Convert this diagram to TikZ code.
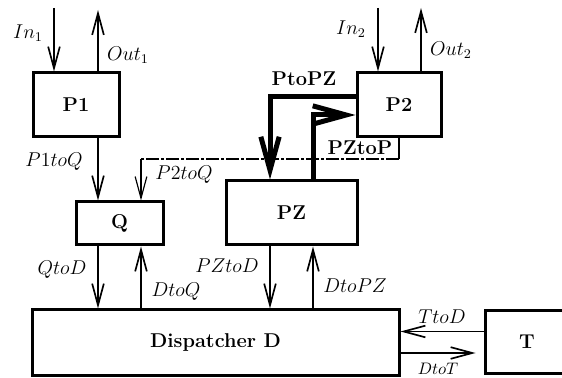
\documentclass[tikz,border=0pt]{standalone}
\usetikzlibrary{arrows.meta}
\tikzset{
  box/.style={draw, line width=1.8pt, font=\large\bfseries, inner sep=0pt},
  arr/.style={line width=1pt, -{Straight Barb[length=13pt,width=7pt]}},
  bigarr/.style={line width=3pt, -{Straight Barb[length=20pt,width=11pt]}},
  dashpat/.style={line width=0.7pt, dash pattern=on 7.8pt off 1.2pt on 1.8pt off 1.2pt},
  lbl/.style={font=\large, inner sep=0pt}
}
\begin{document}
\begin{tikzpicture}[x=0.6pt,y=-0.6pt]
\clip (0,0) rectangle (562,378);

\node[box, minimum width=51.6pt, minimum height=38.4pt] (p1) at (76,105) {P1};
\node[box, minimum width=50.4pt, minimum height=38.4pt] (p2) at (399,105) {P2};
\node[box, minimum width=52.2pt, minimum height=25.8pt] (q) at (119.5,223.5) {Q};
\node[box, minimum width=78.6pt, minimum height=38.4pt] (pz) at (291.5,213) {PZ};
\node[box, minimum width=220.2pt, minimum height=39pt] (d) at (215.5,342.5) {Dispatcher D};
\node[box, minimum width=50.4pt, minimum height=37.2pt] (t) at (527,342) {T};

\coordinate (in1) at (54,8);
\coordinate (out1) at (98,10);
\coordinate (in2) at (378,8);
\coordinate (out2) at (421,8);
\coordinate (dq) at (141,159);
\coordinate (c3) at (270,0);
\coordinate (c4) at (313,0);

\draw[arr] (in1) -- (in1 |- p1.north);
\draw[arr] (out1 |- p1.north) -- (out1);
\draw[arr] (in2) -- (in2 |- p2.north);
\draw[arr] (out2 |- p2.north) -- (out2);
\draw[arr] (out1 |- p1.south) -- (out1 |- q.north);

\draw[line width=0.7pt] (p2.south) -- (p2.south |- dq);
\draw[dashpat] (p2.south |- dq) -- (dq);
\draw[arr, line width=0.7pt] (dq) -- (dq |- q.north);

\draw[bigarr] ([yshift=4.8pt]p2.west) -| (c3 |- pz.north);
\draw[bigarr] (c4 |- pz.north) |- ([yshift=-6pt]p2.west);

\draw[arr] (out1 |- q.south) -- (out1 |- d.north);
\draw[arr] (dq |- d.north) -- (dq |- q.south);
\draw[arr] (c3 |- pz.south) -- (c3 |- d.north);
\draw[arr] (c4 |- d.north) -- (c4 |- pz.south);
\draw[arr] ([yshift=6.3pt]t.west) -- ([yshift=6.3pt]t.west -| d.east);
\draw[arr, shorten >=4.8pt] ([yshift=-6.3pt]d.east) -- ([yshift=-6.3pt]d.east -| t.west);

\node[lbl] (lin1) at (28,33) {$In_1$};
\node[lbl] (lout1) at (128,55) {$Out_1$};
\node[lbl] (lin2) at (351,29) {$In_2$};
\node[lbl] (lout2) at (451,50) {$Out_2$};
\node[lbl] (lp1q) at (54,162) {$P1toQ$};
\node[lbl] (lp2q) at (184,175) {$P2toQ$};
\node[lbl, font=\large\bfseries] (lppz) at (304,79) {PtoPZ};
\node[lbl, font=\large\bfseries] (lpzp) at (360,148) {PZtoP};
\node[lbl] (lqd) at (62,270) {$QtoD$};
\node[lbl] (ldq) at (176,292) {$DtoQ$};
\node[lbl] (lpzd) at (227,266) {$PZtoD$};
\node[lbl] (ldpz) at (355,286) {$DtoPZ$};
\node[lbl] (ltd) at (442,317) {$TtoD$};
\node[lbl, font=\normalsize] (ldt) at (438,369) {$DtoT$};
\end{tikzpicture}
\end{document}
